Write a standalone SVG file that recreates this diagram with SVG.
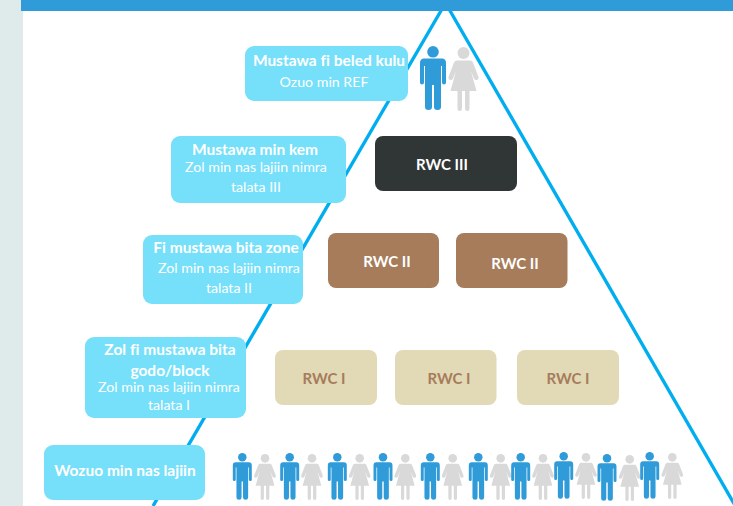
<svg xmlns="http://www.w3.org/2000/svg" xmlns:xlink="http://www.w3.org/1999/xlink" width="733" height="506" viewBox="0 0 733 506">
<style>
text{font-family:Lato,"Liberation Sans",sans-serif;text-anchor:middle}
.lb{fill:#76dffa}
.h{fill:#fff;font-weight:700;font-size:15.5px;font-variant-ligatures:none}
.s{fill:#fff;font-size:14.2px}
.w{fill:#fff;font-weight:700;font-size:15px}
.b{fill:#a67c5b;font-weight:700;font-size:15px}
.edge{fill:none;stroke:#00aeef;stroke-width:3.400}
</style>
<defs>
<g id="man"><circle cx="0" cy="5.800" r="5.800" fill="#2f9bd8"/><path d="M-9 12.500H9Q13 12.500 13 17V36.500Q13 38.500 11 38.500T9 36.500V20H8V61Q8 64 4.500 64T1 61V39H-1V61Q-1 64-4.500 64T-8 61V20H-9V36.500Q-9 38.500-11 38.500T-13 36.500V17Q-13 12.500-9 12.500Z" fill="#2f9bd8"/></g>
<g id="woman"><circle cx="0" cy="6" r="6" fill="#d9d9d9"/><path d="M-6.500 13.500H6.500Q8.500 13.500 9.500 15.500L15 30Q15.500 32.500 13.500 33T10.500 31.500L7.500 24 13 44H6V61.500Q6 64 3.800 64T1.500 61.500V44H-1.500V61.500Q-1.500 64-3.800 64T-6 61.500V44H-13L-7.500 24-10.500 31.500Q-11.500 33.500-13.500 33T-15 30L-9.500 15.500Q-8.500 13.500-6.500 13.500Z" fill="#d9d9d9"/></g>
</defs>
<rect id="side-band" x="0" y="0" width="23" height="506" fill="#dfeaea"/>
<g id="connectors">
<path class="edge" d="M442 9L153 506"/>
<path class="edge" d="M449 9L736 507"/>
</g>
<rect id="top-bar" x="21" y="0" width="712" height="11" fill="#2f9bd8"/>
<g id="level-ref"><rect class="lb" x="245" y="46" width="163" height="55" rx="9"/><text class="h" x="329" y="66">Mustawa fi beled kulu</text><text class="s" x="324" y="87">Ozuo min REF</text></g>
<g id="level-state"><rect class="lb" x="171" y="136" width="175" height="67" rx="9"/><text class="h" x="255" y="155">Mustawa min kem</text><text class="s" x="256" y="172">Zol min nas lajiin nimra</text><text class="s" x="256" y="192">talata III</text></g>
<g id="level-zone"><rect class="lb" x="143" y="235" width="160" height="69" rx="9"/><text class="h" x="226" y="253">Fi mustawa bita zone</text><text class="s" x="229" y="273">Zol min nas lajiin nimra</text><text class="s" x="229" y="293">talata II</text></g>
<g id="level-block"><rect class="lb" x="85" y="337" width="161" height="81" rx="9"/><text class="h" x="170" y="355">Zol fi mustawa bita</text><text class="h" x="170" y="376">godo/block</text><text class="s" x="169" y="392">Zol min nas lajiin nimra</text><text class="s" x="169" y="410">talata I</text></g>
<g id="level-refugees"><rect class="lb" x="44" y="445" width="161" height="55" rx="9"/><text class="h" x="125" y="476">Wozuo min nas lajiin</text></g>
<g id="rwc3"><rect x="375" y="136" width="142" height="55" rx="8" fill="#303535"/><text class="w" x="442" y="170">RWC III</text></g>
<g id="rwc2a"><rect x="328" y="233" width="111" height="55" rx="8" fill="#a67c5b"/><text class="w" x="387" y="267">RWC II</text></g>
<g id="rwc2b"><rect x="456" y="233" width="111.500" height="55" rx="8" fill="#a67c5b"/><text class="w" x="515" y="269">RWC II</text></g>
<g id="rwc1a"><rect x="275" y="350" width="102" height="55" rx="8" fill="#e2d9b6"/><text class="b" x="338" y="384" style="text-anchor:middle" dx="-14">RWC I</text></g>
<g id="rwc1b"><rect x="395" y="350" width="101.500" height="55" rx="8" fill="#e2d9b6"/><text class="b" x="449" y="384">RWC I</text></g>
<g id="rwc1c"><rect x="517" y="350" width="102" height="55" rx="8" fill="#e2d9b6"/><text class="b" x="568" y="384">RWC I</text></g>
<g id="people-top">
<use xlink:href="#man" href="#man" transform="translate(433 46)"/>
<use xlink:href="#woman" href="#woman" transform="translate(463.500 47)"/>
</g>
<g id="people-bottom">
<use href="#man" transform="translate(242.300 453) scale(.73)"/>
<use href="#woman" transform="translate(265 454) scale(.72)"/>
<use href="#man" transform="translate(289.700 453) scale(.73)"/>
<use href="#woman" transform="translate(312 454) scale(.72)"/>
<use href="#man" transform="translate(337.300 453) scale(.73)"/>
<use href="#woman" transform="translate(359.700 454) scale(.72)"/>
<use href="#man" transform="translate(383 453) scale(.73)"/>
<use href="#woman" transform="translate(405.300 454) scale(.72)"/>
<use href="#man" transform="translate(430.300 453) scale(.73)"/>
<use href="#woman" transform="translate(452.700 454) scale(.72)"/>
<use href="#man" transform="translate(478.300 453) scale(.73)"/>
<use href="#woman" transform="translate(500.700 454) scale(.72)"/>
<use href="#man" transform="translate(520.700 453) scale(.73)"/>
<use href="#woman" transform="translate(543 454) scale(.72)"/>
<use href="#man" transform="translate(563.700 452) scale(.73)"/>
<use href="#woman" transform="translate(586 453) scale(.72)"/>
<use href="#man" transform="translate(607 454) scale(.73)"/>
<use href="#woman" transform="translate(629.700 455) scale(.72)"/>
<use href="#man" transform="translate(649.700 452) scale(.73)"/>
<use href="#woman" transform="translate(672.300 453) scale(.72)"/>
</g>
</svg>
